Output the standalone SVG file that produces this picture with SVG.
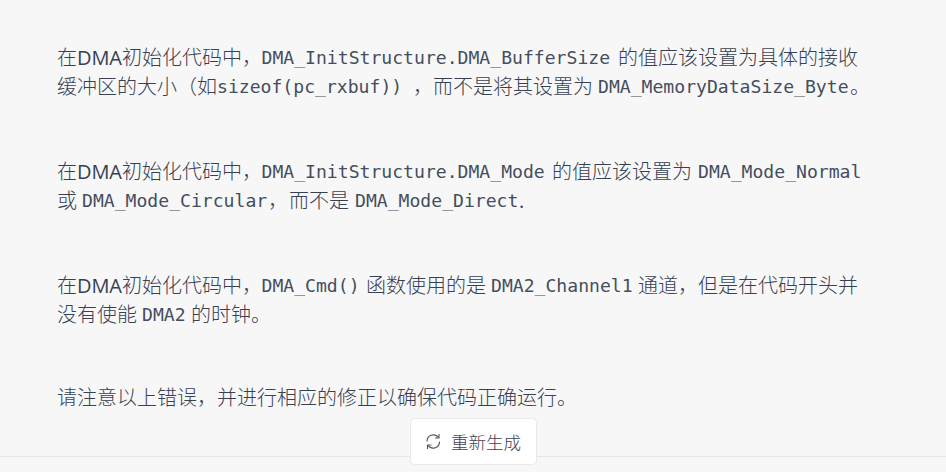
<svg xmlns="http://www.w3.org/2000/svg" width="946" height="472" viewBox="0 0 946 472">
<style>
text{fill:#374151;white-space:pre}
.c{font-family:"Noto Sans CJK SC","Liberation Sans",sans-serif;font-size:20px;font-weight:300}
.s{font-family:"Open Sans","Noto Sans",sans-serif;font-size:20px}
.m{font-family:"DejaVu Sans Mono","Liberation Mono",monospace;font-size:18.1px;fill:#454e5c}
</style>
<rect width="946" height="472" fill="#f7f7f8"/>
<g id="para1">
<text class="c" x="57" y="65">在</text><text class="s" x="77" y="65" textLength="45">DMA</text><text class="c" x="122" y="65">初始化代码中，</text><text class="m" x="261.500" y="64">DMA_InitStructure.DMA_BufferSize</text><text class="c" x="618" y="65">的值应该设置为具体的接收</text>
<text class="c" x="57" y="94">缓冲区的大小（如</text><text class="m" x="217" y="93">sizeof(pc_rxbuf))</text><text class="c" x="413" y="94">，</text><text class="c" x="433" y="94">而不是将其设置为</text><text class="m" x="598" y="93">DMA_MemoryDataSize_Byte</text><text class="c" x="850" y="94">。</text>
</g>
<g id="para2">
<text class="c" x="57" y="179">在</text><text class="s" x="77" y="179" textLength="45">DMA</text><text class="c" x="122" y="179">初始化代码中，</text><text class="m" x="261.500" y="178">DMA_InitStructure.DMA_Mode</text><text class="c" x="552" y="179">的值应该设置为</text><text class="m" x="698" y="178">DMA_Mode_Normal</text>
<text class="c" x="57" y="208">或</text><text class="m" x="82" y="207">DMA_Mode_Circular</text><text class="c" x="268" y="208">，</text><text class="c" x="289" y="208">而不是</text><text class="m" x="355" y="207">DMA_Mode_Direct</text><text class="s" x="519" y="208">.</text>
</g>
<g id="para3">
<text class="c" x="57" y="293">在</text><text class="s" x="77" y="293" textLength="45">DMA</text><text class="c" x="122" y="293">初始化代码中，</text><text class="m" x="261.500" y="292">DMA_Cmd()</text><text class="c" x="366" y="293">函数使用的是</text><text class="m" x="491" y="292">DMA2_Channel1</text><text class="c" x="638" y="293">通道，但是在代码开头并</text>
<text class="c" x="57" y="322">没有使能</text><text class="m" x="142" y="321">DMA2</text><text class="c" x="191" y="322">的时钟。</text>
</g>
<g id="para4">
<text class="c" x="57" y="405">请注意以上错误，并进行相应的修正以确保代码正确运行。</text>
</g>
<line x1="0" y1="456.500" x2="946" y2="456.500" stroke="#e8e8ea"/>
<g id="regenerate-button">
<rect x="410.500" y="418.500" width="126" height="46" rx="4" fill="#fff" stroke="#e9e9ec"/>
<g fill="none" stroke="#555661" stroke-width="1.200" stroke-linecap="round" stroke-linejoin="round">
<path d="M427 441a6.300 6.300 0 0 1 11-4"/><path d="M439 434.500v3.500h-3.500"/>
<path d="M439.500 442a6.300 6.300 0 0 1-11 4"/><path d="M427.500 448.500v-3.500h3.500"/>
</g>
<text x="451" y="448.500" font-family="Noto Sans CJK SC, sans-serif" font-size="17.500" font-weight="300" style="fill:#40414f">重新生成</text>
</g>
</svg>
